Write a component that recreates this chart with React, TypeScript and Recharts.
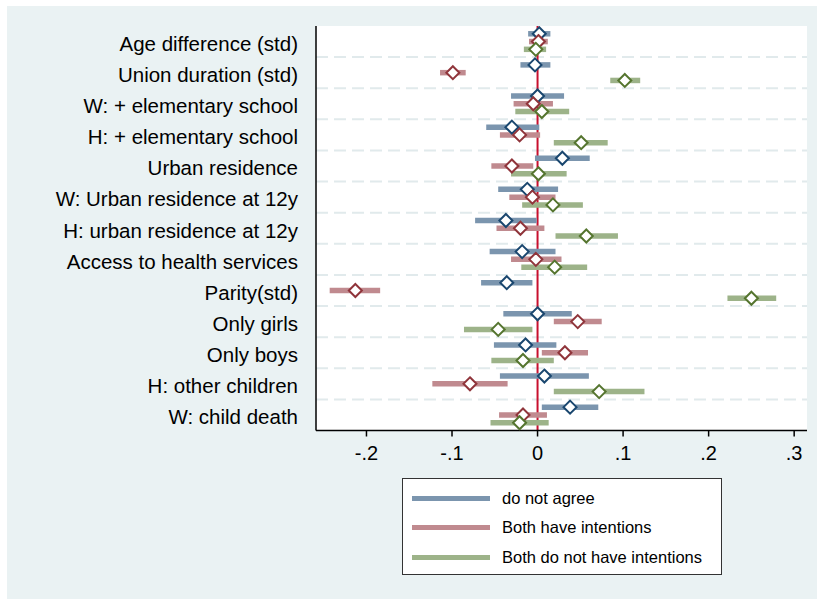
import React from 'react';
import {
    ComposedChart,
    Scatter,
    ErrorBar,
    XAxis,
    YAxis,
    CartesianGrid,
    ReferenceLine,
} from 'recharts';

const categories = [
    'Age difference (std)',
    'Union duration (std)',
    'W: + elementary school',
    'H: + elementary school',
    'Urban residence',
    'W: Urban residence at 12y',
    'H: urban residence at 12y',
    'Access to health services',
    'Parity(std)',
    'Only girls',
    'Only boys',
    'H: other children',
    'W: child death',
];

// do not agree
const disagreeCoef = [0.002, -0.003, 0.0, -0.03, 0.029, -0.012, -0.037, -0.018, -0.036, 0.0, -0.014, 0.008, 0.038];
const disagreeLow = [-0.011, -0.02, -0.031, -0.06, -0.003, -0.046, -0.073, -0.056, -0.066, -0.04, -0.051, -0.044, 0.005];
const disagreeHigh = [0.015, 0.015, 0.031, 0.002, 0.061, 0.024, -0.001, 0.021, -0.006, 0.04, 0.022, 0.06, 0.071];

// both have intentions
const bothHaveCoef = [0.001, -0.099, -0.005, -0.021, -0.03, -0.006, -0.02, -0.002, -0.213, 0.047, 0.032, -0.079, -0.017];
const bothHaveLow = [-0.01, -0.114, -0.028, -0.044, -0.054, -0.033, -0.048, -0.031, -0.243, 0.019, 0.005, -0.123, -0.045];
const bothHaveHigh = [0.012, -0.084, 0.018, 0.003, -0.005, 0.021, 0.008, 0.028, -0.184, 0.075, 0.059, -0.035, 0.011];

// both do not have intentions
const bothNotCoef = [-0.002, 0.102, 0.005, 0.051, 0.001, 0.018, 0.057, 0.02, 0.25, -0.046, -0.017, 0.072, -0.021];
const bothNotLow = [-0.016, 0.085, -0.026, 0.019, -0.031, -0.018, 0.021, -0.019, 0.222, -0.086, -0.054, 0.019, -0.055];
const bothNotHigh = [0.01, 0.12, 0.037, 0.082, 0.034, 0.053, 0.094, 0.058, 0.279, -0.006, 0.019, 0.125, 0.013];

const xTicks = [-0.2, -0.1, 0, 0.1, 0.2, 0.3];
const xTickLabels = ['-.2', '-.1', '0', '.1', '.2', '.3'];

const series = [
    { name: 'do not agree', coef: disagreeCoef, low: disagreeLow, high: disagreeHigh, ci: '#7b95ae', marker: '#1a476f' },
    { name: 'Both have intentions', coef: bothHaveCoef, low: bothHaveLow, high: bothHaveHigh, ci: '#c08a8f', marker: '#90353b' },
    { name: 'Both do not have intentions', coef: bothNotCoef, low: bothNotLow, high: bothNotHigh, ci: '#9db389', marker: '#55752f' },
];

// each category takes 4 rows: one per series plus a gap holding the grid line
const rowsPerCat = 4;
const yMax = categories.length * rowsPerCat;
const labelTicks = categories.map((_, i) => i * rowsPerCat + 2);
const gridRows = categories.slice(1).map((_, i) => (i + 1) * rowsPerCat);

const seriesData = series.map((s, si) =>
    s.coef.map((c, i) => ({
        x: c,
        y: i * rowsPerCat + 1 + si,
        err: [c - s.low[i], s.high[i] - c],
    }))
);

const font = '"Liberation Sans", Arial, Helvetica, sans-serif';

function Diamond(props: any, color: string) {
    const { cx, cy } = props;
    const r = 6.5;
    return (
        <polygon
            points={`${cx},${cy - r} ${cx + r},${cy} ${cx},${cy + r} ${cx - r},${cy}`}
            fill="#fff"
            stroke={color}
            strokeWidth={2}
        />
    );
}

export default function App() {
    return (
        <div style={{ position: 'absolute', left: 0, top: 0, width: 817, height: 599, background: '#fff', fontFamily: font }}>
            <div style={{ position: 'absolute', left: 7, top: 6, width: 810, height: 593, background: '#eaf2f3' }}>
                <ComposedChart width={810} height={593} margin={{ top: 20, right: 10, left: 0, bottom: 0 }}>
                    <CartesianGrid
                        fill="#fff"
                        vertical={false}
                        horizontalValues={gridRows}
                        stroke="#e1eaec"
                        strokeWidth={2}
                        strokeDasharray="12 6"
                    />
                    <XAxis
                        type="number"
                        dataKey="x"
                        domain={[-0.259, 0.315]}
                        allowDataOverflow
                        ticks={xTicks}
                        interval={0}
                        tickFormatter={(v: number) => xTickLabels[xTicks.indexOf(v)] ?? String(v)}
                        height={168.5}
                        tickSize={6}
                        tickMargin={9}
                        stroke="#000"
                        strokeWidth={1.5}
                        tick={{ fill: '#000', fontSize: 20, fontFamily: font }}
                    />
                    <YAxis
                        type="number"
                        dataKey="y"
                        domain={[0, yMax]}
                        reversed
                        allowDataOverflow
                        ticks={labelTicks}
                        interval={0}
                        tickFormatter={(v: number) => categories[labelTicks.indexOf(v)] ?? ''}
                        width={309}
                        tickSize={0}
                        tickMargin={18}
                        tickLine={false}
                        stroke="#000"
                        strokeWidth={1.5}
                        tick={{ fill: '#000', fontSize: 20.5, fontFamily: font, dy: 2 }}
                    />
                    <ReferenceLine x={0} stroke="#c8102e" strokeWidth={2} />
                    {series.map((s, si) => (
                        <Scatter
                            key={'ci' + si}
                            data={seriesData[si]}
                            dataKey="x"
                            shape={() => <g />}
                            legendType="none"
                            isAnimationActive={false}
                        >
                            <ErrorBar
                                dataKey="err"
                                direction="x"
                                width={0}
                                stroke={s.ci}
                                strokeWidth={5.5}
                                isAnimationActive={false}
                            />
                        </Scatter>
                    ))}
                    {series.map((s, si) => (
                        <Scatter
                            key={'pt' + si}
                            name={s.name}
                            data={seriesData[si]}
                            dataKey="x"
                            shape={(p: any) => Diamond(p, s.marker)}
                            isAnimationActive={false}
                        />
                    ))}
                </ComposedChart>
            </div>

            {/* legend */}
            <div
                style={{
                    position: 'absolute',
                    left: 402,
                    top: 478,
                    width: 318,
                    height: 95,
                    background: '#fff',
                    border: '1px solid #333',
                }}
            >
                {series.map((s, si) => (
                    <div key={s.name} style={{ position: 'absolute', left: 0, top: 6 + si * 29.5, height: 26, display: 'flex', alignItems: 'center' }}>
                        <div style={{ marginLeft: 9, width: 78, height: 5, background: s.ci }} />
                        <span style={{ marginLeft: 12, fontSize: 16.5, color: '#000', whiteSpace: 'nowrap' }}>{s.name}</span>
                    </div>
                ))}
            </div>
        </div>
    );
}
